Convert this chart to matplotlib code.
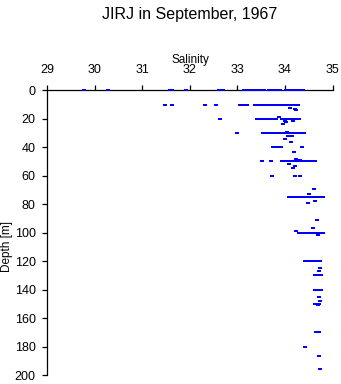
import matplotlib
matplotlib.use("Agg")
import matplotlib.pyplot as plt

# salinity / depth pairs, grouped by sampling level
salinity = [
    # 0 m
    29.77, 30.29, 31.58, 31.63, 31.93, 32.61, 32.70, 33.14, 33.18, 33.26,
    33.30, 33.34, 33.38, 33.42, 33.46, 33.50, 33.55, 33.66, 33.70, 33.74,
    33.78, 33.83, 33.90, 34.02, 34.06, 34.10, 34.14, 34.18, 34.22, 34.26,
    34.30, 34.34, 34.38,
    # 10 m
    31.47, 31.63, 32.32, 32.56, 33.05, 33.09, 33.13, 33.20, 33.37, 33.41,
    33.45, 33.49, 33.53, 33.58, 33.62, 33.66, 33.70, 33.74, 33.83, 33.92,
    33.96, 34.00, 34.04, 34.08, 34.12, 34.16, 34.20, 34.24, 34.28,
    34.10, 34.22, 34.24,
    # 20 m
    32.64, 33.42, 33.46, 33.50, 33.54, 33.58, 33.62, 33.66, 33.70, 33.74,
    33.78, 33.82, 33.93, 33.97, 34.01, 34.05, 34.09, 34.13, 34.17, 34.21,
    34.25, 34.29, 33.87, 34.00, 34.16, 34.02, 33.95,
    # 30 m
    32.99, 33.53, 33.60, 33.64, 33.68, 33.72, 33.76, 33.80, 33.84, 33.88,
    33.92, 33.96, 34.00, 34.04, 34.08, 34.12, 34.16, 34.20, 34.24, 34.28,
    34.32, 34.36, 34.39, 34.04, 34.06, 34.15, 34.00, 34.12,
    # 40 m
    33.75, 33.79, 33.83, 33.87, 33.91, 34.35, 34.19,
    # 50 m
    33.52, 33.70, 33.94, 34.03, 34.07, 34.11, 34.15, 34.19, 34.23, 34.27,
    34.31, 34.35, 34.39, 34.43, 34.47, 34.51, 34.55, 34.59, 34.63,
    34.24, 34.32, 34.08, 34.21, 34.16,
    # 60 m
    33.73, 34.22, 34.32,
    # 75 m
    34.60, 34.08, 34.12, 34.16, 34.21, 34.29, 34.33, 34.38, 34.44, 34.48,
    34.52, 34.56, 34.60, 34.64, 34.68, 34.72, 34.76, 34.80, 34.51, 34.64,
    34.49,
    # 100 m
    34.68, 34.58, 34.23, 34.30, 34.34, 34.38, 34.43, 34.47, 34.51, 34.55,
    34.59, 34.63, 34.67, 34.71, 34.75, 34.79, 34.69,
    # 120-150 m
    34.43, 34.47, 34.51, 34.54, 34.58, 34.62, 34.66, 34.74, 34.74, 34.72,
    34.64, 34.68, 34.72, 34.75, 34.62, 34.66, 34.70, 34.75,
    34.72, 34.73, 34.63, 34.67, 34.71, 34.70,
    # deep
    34.65, 34.69, 34.72, 34.43, 34.72, 34.74,
]

depth_m = [
    # 0 m
    0, 0, 0, 0, 0, 0, 0, 0, 0, 0,
    0, 0, 0, 0, 0, 0, 0, 0, 0, 0,
    0, 0, 0, 0, 0, 0, 0, 0, 0, 0,
    0, 0, 0,
    # 10 m
    10, 10, 10, 10, 10, 10, 10, 10, 10, 10,
    10, 10, 10, 10, 10, 10, 10, 10, 10, 10,
    10, 10, 10, 10, 10, 10, 10, 10, 10,
    12.4, 13, 13.6,
    # 20 m
    20, 20, 20, 20, 20, 20, 20, 20, 20, 20,
    20, 20, 20, 20, 20, 20, 20, 20, 20, 20,
    20, 20, 18.7, 21.5, 21.5, 22.5, 23.7,
    # 30 m
    30, 30, 30, 30, 30, 30, 30, 30, 30, 30,
    30, 30, 30, 30, 30, 30, 30, 30, 30, 30,
    30, 30, 30, 29, 31.9, 31.9, 34.2, 36,
    # 40 m
    40, 40, 40, 40, 40, 39.5, 43,
    # 50 m
    50, 50, 50, 50, 50, 50, 50, 50, 50, 50,
    50, 50, 50, 50, 50, 50, 50, 50, 50,
    48.2, 49, 52, 53, 54.5,
    # 60 m
    60, 60, 60,
    # 75 m
    69.3, 75, 75, 75, 75, 75, 75, 75, 75, 75,
    75, 75, 75, 75, 75, 75, 75, 75, 73, 77.5,
    79.3,
    # 100 m
    91, 96.9, 99, 100, 100, 100, 100, 100, 100, 100,
    100, 100, 100, 100, 100, 100, 101.8,
    # 120-150 m
    120, 120, 120, 120, 120, 120, 120, 120, 124.7, 126.6,
    130, 130, 130, 130, 140, 140, 140, 140,
    145, 148, 150, 150, 150, 151,
    # deep
    170, 170, 170, 180, 187, 196,
]

x_ticks = [29, 30, 31, 32, 33, 34, 35]
y_ticks = list(range(0, 201, 20))

W, H = 341, 384
fig = plt.figure(figsize=(W / 100, H / 100), dpi=100)
plt.rcParams["font.family"] = ["Liberation Sans", "DejaVu Sans"]

# axes box in pixels: x 47..332.6, y 90.3..375
ax = fig.add_axes([47 / W, 1 - 375 / H, 285.6 / W, 284.7 / H])

box = [(-1.5, -1), (1.5, -1), (1.5, 1), (-1.5, 1)]
ax.plot(salinity, depth_m, linestyle="none", marker=box, markersize=2.7,
        markeredgewidth=0, color="#0000ff", clip_on=False, zorder=4)

ax.set_xlim(29, 35)
ax.set_ylim(200, 0)
ax.set_xticks(x_ticks)
ax.set_yticks(y_ticks)
ax.xaxis.tick_top()
for side in ("right", "bottom"):
    ax.spines[side].set_visible(False)
for side in ("left", "top"):
    ax.spines[side].set_linewidth(0.9)
ax.tick_params(axis="both", direction="out", length=3.6, width=0.9,
               labelsize=9, colors="black")
ax.tick_params(axis="x", pad=6.5)
ax.tick_params(axis="y", pad=4.5)

fig.text(190 / W, 1 - 14 / H, "JIRJ in September, 1967", ha="center",
         va="center", fontsize=11.5)
fig.text(190.8 / W, 1 - 59.5 / H, "Salinity", ha="center", va="center",
         fontsize=8.5)
fig.text(7 / W, 1 - 247 / H, "Depth [m]", rotation=90, ha="center",
         va="center", fontsize=8.5)

fig.savefig("out.png", dpi=100)
